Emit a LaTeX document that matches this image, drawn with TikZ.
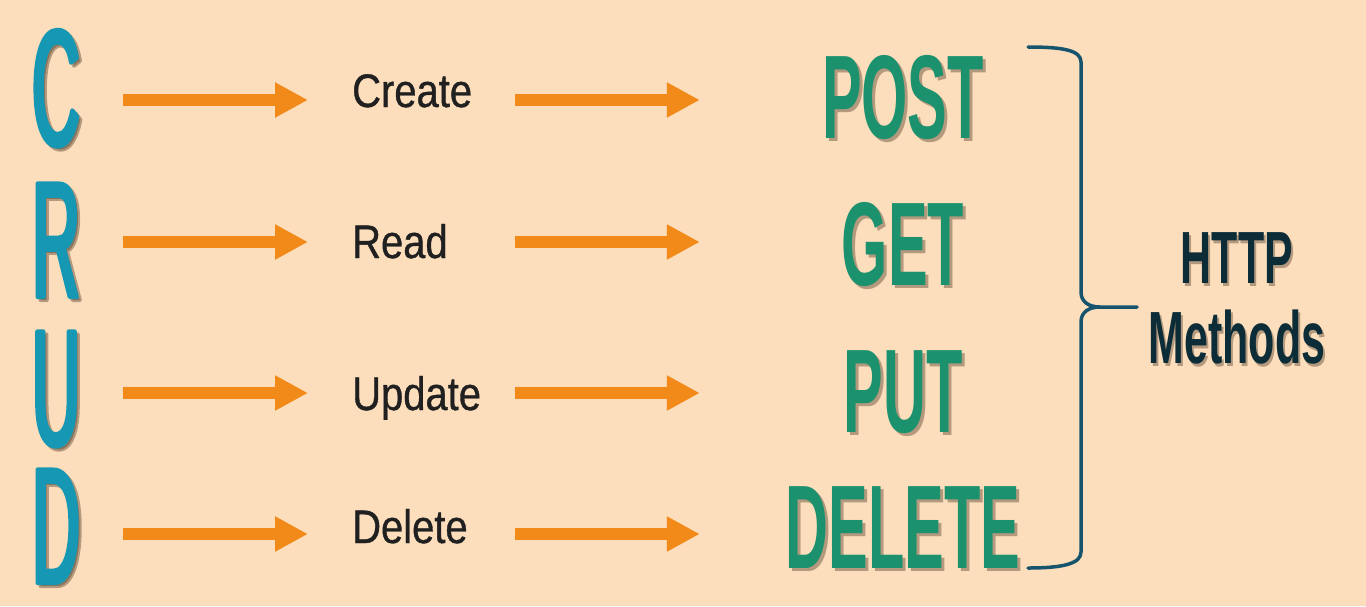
\documentclass[tikz,border=0pt]{standalone}
\usepackage{fontspec}
\usetikzlibrary{arrows.meta}
\setmainfont{Liberation Sans}
\newfontfamily\crudfont[FakeStretch=0.40, FakeBold=2.5]{Liberation Sans}
\newfontfamily\verbfont[FakeStretch=0.50]{Liberation Sans}
\newfontfamily\httpfont[FakeStretch=0.58]{Liberation Sans}
\newfontfamily\opfont[FakeStretch=0.85, FakeBold=0.8]{Liberation Sans}

\definecolor{peach}{RGB}{253,222,188}
\definecolor{crudteal}{RGB}{22,152,180}
\definecolor{arroworange}{RGB}{242,138,26}
\definecolor{verbgreen}{RGB}{27,145,110}
\definecolor{bracecol}{RGB}{22,84,110}
\definecolor{httpcol}{RGB}{12,44,56}
\definecolor{shadowcol}{RGB}{90,70,50}
\definecolor{opcol}{RGB}{32,32,32}

\begin{document}
\begin{tikzpicture}[x=1pt, y=-1pt, >=Stealth, line join=round]

	% ================= 1. styles =================
	\tikzset{
		letter/.style={font=\crudfont\fontsize{165}{165}\selectfont, text=crudteal, inner sep=0pt, anchor=base},
		opname/.style={font=\opfont\fontsize{47}{47}\selectfont, text=opcol, inner sep=0pt, anchor=base west, text width=163pt, align=left},
		verb/.style={font=\verbfont\bfseries\fontsize{119}{119}\selectfont, text=verbgreen, inner sep=0pt, anchor=base, minimum width=406pt},
		httptext/.style={font=\httpfont\bfseries\fontsize{74}{80}\selectfont, text=httpcol, inner sep=0pt, anchor=base, align=center},
		shd/.style={text=shadowcol, opacity=0.45},
		flow/.style={-{Triangle[length=33pt, width=33pt]}, line width=12pt, draw=arroworange},
		brace/.style={draw=bracecol, line width=3.5pt, line cap=round}
	}

	% background
	\fill[peach] (0,0) rectangle (1366,606);
	\useasboundingbox (0,0) rectangle (1366,606);

	% ================= 2. C R U D =================
	\foreach \l/\y [count=\i] in {C/145, R/297, U/445, D/583} {
		\node[letter, shd] at (59,\y+3) {\l};
		\node[letter] (L\i) at (56,\y) {\l};
	}

	% ================= 3. operations =================
	\foreach \t/\y [count=\i] in {Create/107, Read/258, Update/410, Delete/543} {
		\node[opname] (T\i) at (352,\y) {\t};
	}

	% ================= 4. HTTP verbs =================
	\foreach \m/\y [count=\i] in {POST/138, GET/285, PUT/432, DELETE/568} {
		\node[verb, shd] at (906,\y+3) {\m};
		\node[verb] (M\i) at (903,\y) {\m};
	}

	% ================= 5. arrows =================
	\foreach \y [count=\i] in {100, 242, 393, 534} {
		\coordinate (r\i) at (0,\y);
		\draw[flow, shorten <=43pt, shorten >=44pt] (L\i.east |- r\i) -- (T\i.west |- r\i);
		\draw[flow] (T\i.east |- r\i) -- (M\i.west |- r\i);
	}

	% ================= 6. brace and label =================
	\draw[brace] (1028,47) .. controls (1062,47) and (1081,50) .. (1081,62)
		-- (1081,292) .. controls (1081,302) and (1089,307) .. (1100,307) -- (1137,307);
	\draw[brace] (1100,307) .. controls (1089,307) and (1081,312) .. (1081,322)
		-- (1081,552) .. controls (1081,564) and (1062,568) .. (1028,568);

	\node[httptext, shd] at (1239,366) {HTTP\\Methods};
	\node[httptext] (http) at (1237,363) {HTTP\\Methods};

\end{tikzpicture}
\end{document}
